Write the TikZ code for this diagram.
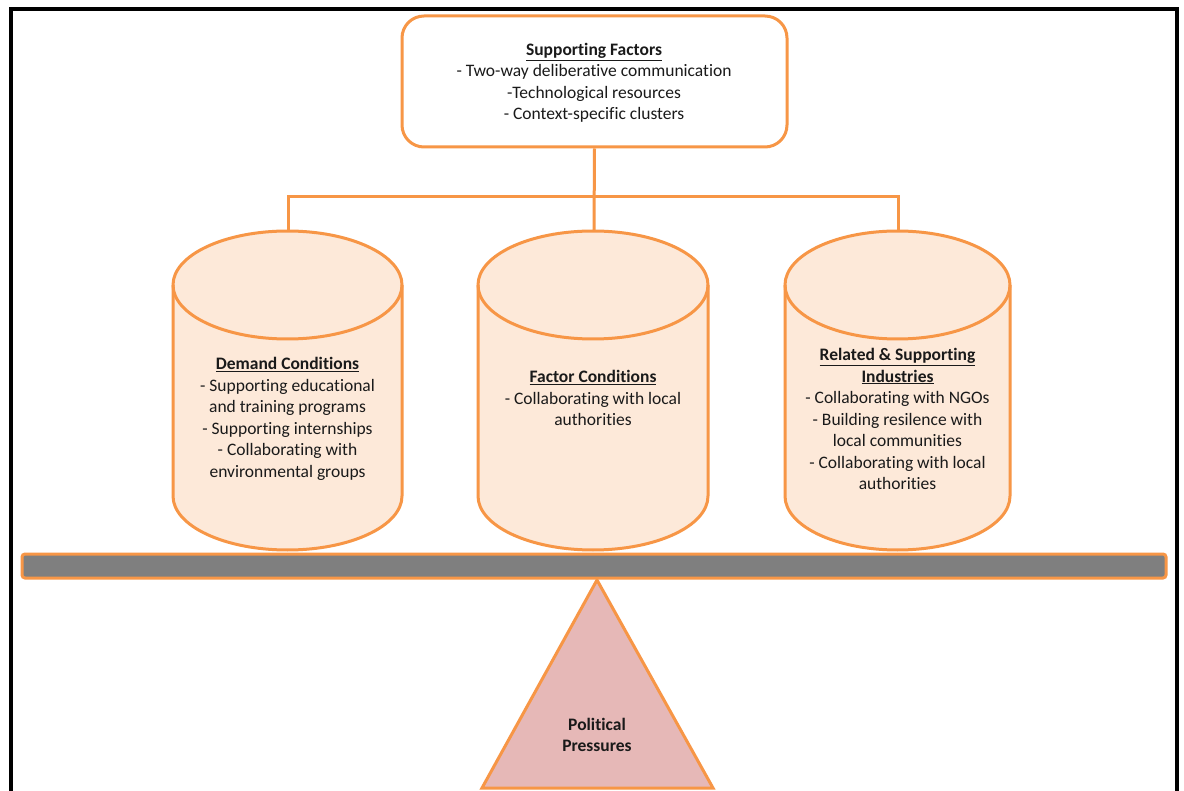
\documentclass[tikz,border=0pt]{standalone}
\usepackage{fontspec}
\setmainfont{Carlito}[Ligatures={NoCommon}]
\definecolor{accent}{HTML}{F79646}
\definecolor{peach}{HTML}{FDE9D9}
\definecolor{beamgray}{HTML}{7F7F7F}
\definecolor{pivotpink}{HTML}{E6B8B7}
\definecolor{ink}{HTML}{1A1A1A}
\tikzset{
  txt/.style={align=center, text=ink, font=\fontsize{17.5}{21.5}\selectfont, inner sep=0pt},
  factorbox/.style={draw=accent, line width=3pt, fill=white, rounded corners=22pt,
    minimum width=385pt, minimum height=131pt, txt},
  cylbody/.style={draw=accent, line width=3pt, fill=peach},
  link/.style={draw=accent, line width=3pt},
  beam/.style={draw=accent, line width=3pt, fill=beamgray, rounded corners=3pt,
    minimum width=1144pt, minimum height=24pt, inner sep=0pt},
  pivot/.style={draw=accent, line width=3pt, fill=pivotpink, line join=miter},
  frame/.style={draw=black, line width=3.5pt}
}
\newcommand{\drum}[4]{% centre x, top-centre y, bottom-centre y, x radius
  \filldraw[cylbody] (#1-#4,#2) -- (#1-#4,#3)
    arc[start angle=180, end angle=360, x radius=#4pt, y radius=54pt]
    -- (#1+#4,#2)
    arc[start angle=0, end angle=180, x radius=#4pt, y radius=54pt] -- cycle;
  \draw[cylbody, fill=none] (#1-#4,#2)
    arc[start angle=180, end angle=360, x radius=#4pt, y radius=54pt];
}
\begin{document}
\begin{tikzpicture}[x=1pt, y=-1pt]
\useasboundingbox (0,0) rectangle (1184,791);
\fill[white] (0,0) rectangle (1184,791);

% outer frame, open at the bottom edge
\draw[frame] (11,800) -- (11,9) -- (1177,9) -- (1177,800);

% top box
\node[factorbox] (sf) at (594.5,81.5) {};
\node[txt] (sftext) at (594,83)
  {\textbf{\underline{Supporting Factors}}\\
   - Two-way deliberative communication\\
   -Technological resources\\
   - Context-specific clusters};

% the three cylinders
\drum{287.5}{285}{496}{114.5}
\drum{593}{285}{496}{115}
\drum{897.5}{285}{496}{112.5}

\coordinate (dctop) at (288,231);
\coordinate (fctop) at (594,231);
\coordinate (rsitop) at (898,231);
\coordinate (bus) at (594,197);

\node[txt] (dc) at (287.5,419)
  {\textbf{\underline{Demand Conditions}}\\
   - Supporting educational\\
   and training programs\\
   - Supporting internships\\
   - Collaborating with\\
   environmental groups};
\node[txt] (fc) at (593,398)
  {\textbf{\underline{Factor Conditions}}\\
   - Collaborating with local\\
   authorities};
\node[txt] (rsi) at (897.5,419)
  {\textbf{\underline{Related \& Supporting}}\\
   \textbf{\underline{Industries}}\\
   - Collaborating with NGOs\\
   - Building resilence with\\
   local communities\\
   - Collaborating with local\\
   authorities};

% connectors
\draw[link] (sf.south) -- (fctop);
\draw[link] (dctop) |- (bus) -| (rsitop);

% beam and pivot
\node[beam] (bm) at (594,566) {};
\coordinate (apex) at (597,580);
\coordinate (bl) at (482,788);
\coordinate (br) at (713,788);
\filldraw[pivot] (apex) -- (bl) -- (br) -- cycle;
\node[txt, font=\bfseries\fontsize{17.5}{21.5}\selectfont] (pp) at (597,735)
  {Political\\Pressures};
\end{tikzpicture}
\end{document}
